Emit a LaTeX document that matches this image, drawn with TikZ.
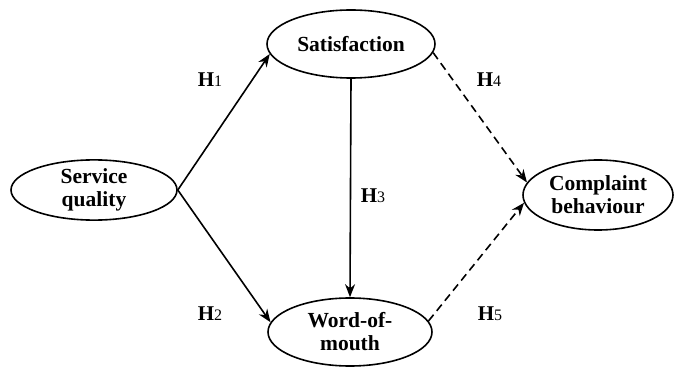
\documentclass[tikz,border=0pt]{standalone}
\usepackage{fontspec}
\setmainfont{Liberation Serif}
\usetikzlibrary{shapes.geometric,arrows.meta}
\tikzset{
  construct/.style={draw, ellipse, line width=1.6pt, inner sep=0pt, align=center,
    font=\fontsize{21.5}{23}\selectfont\bfseries},
  link/.style={line width=1.6pt, -{Stealth[length=13pt,width=10pt]}},
  dlink/.style={link, dash pattern=on 8pt off 5pt},
  hyp/.style={font=\fontsize{21}{23}\selectfont}
}
\newcommand{\hlab}[1]{\textbf{H}{\fontsize{16}{17}\selectfont #1}}
\begin{document}
\begin{tikzpicture}[x=1pt,y=-1pt]
\useasboundingbox (0,0) rectangle (675,374);
\node[construct, minimum width=166pt, minimum height=58pt] (sq) at (94,190) {Service\\quality};
\node[construct, minimum width=168pt, minimum height=68pt] (sat) at (351,44) {Satisfaction};
\node[construct, minimum width=164pt, minimum height=68pt] (wom) at (350,332) {Word-of-\\mouth};
\node[construct, minimum width=150pt, minimum height=70pt] (cb) at (598,195) {Complaint\\behaviour};
\draw[link] (sq.east) -- (sat.187);
\draw[link] (sq.east) -- (wom.173);
\draw[link] (sat.south) -- (wom.north);
\draw[dlink] (sat.-6) -- (cb.170);
\draw[dlink] (wom.8) -- (cb.186);
\node[hyp] (h1) at (210,80) {\hlab{1}};
\node[hyp] (h2) at (210,314) {\hlab{2}};
\node[hyp] (h3) at (373,196) {\hlab{3}};
\node[hyp] (h4) at (489,80) {\hlab{4}};
\node[hyp] (h5) at (490,314) {\hlab{5}};
\end{tikzpicture}
\end{document}
